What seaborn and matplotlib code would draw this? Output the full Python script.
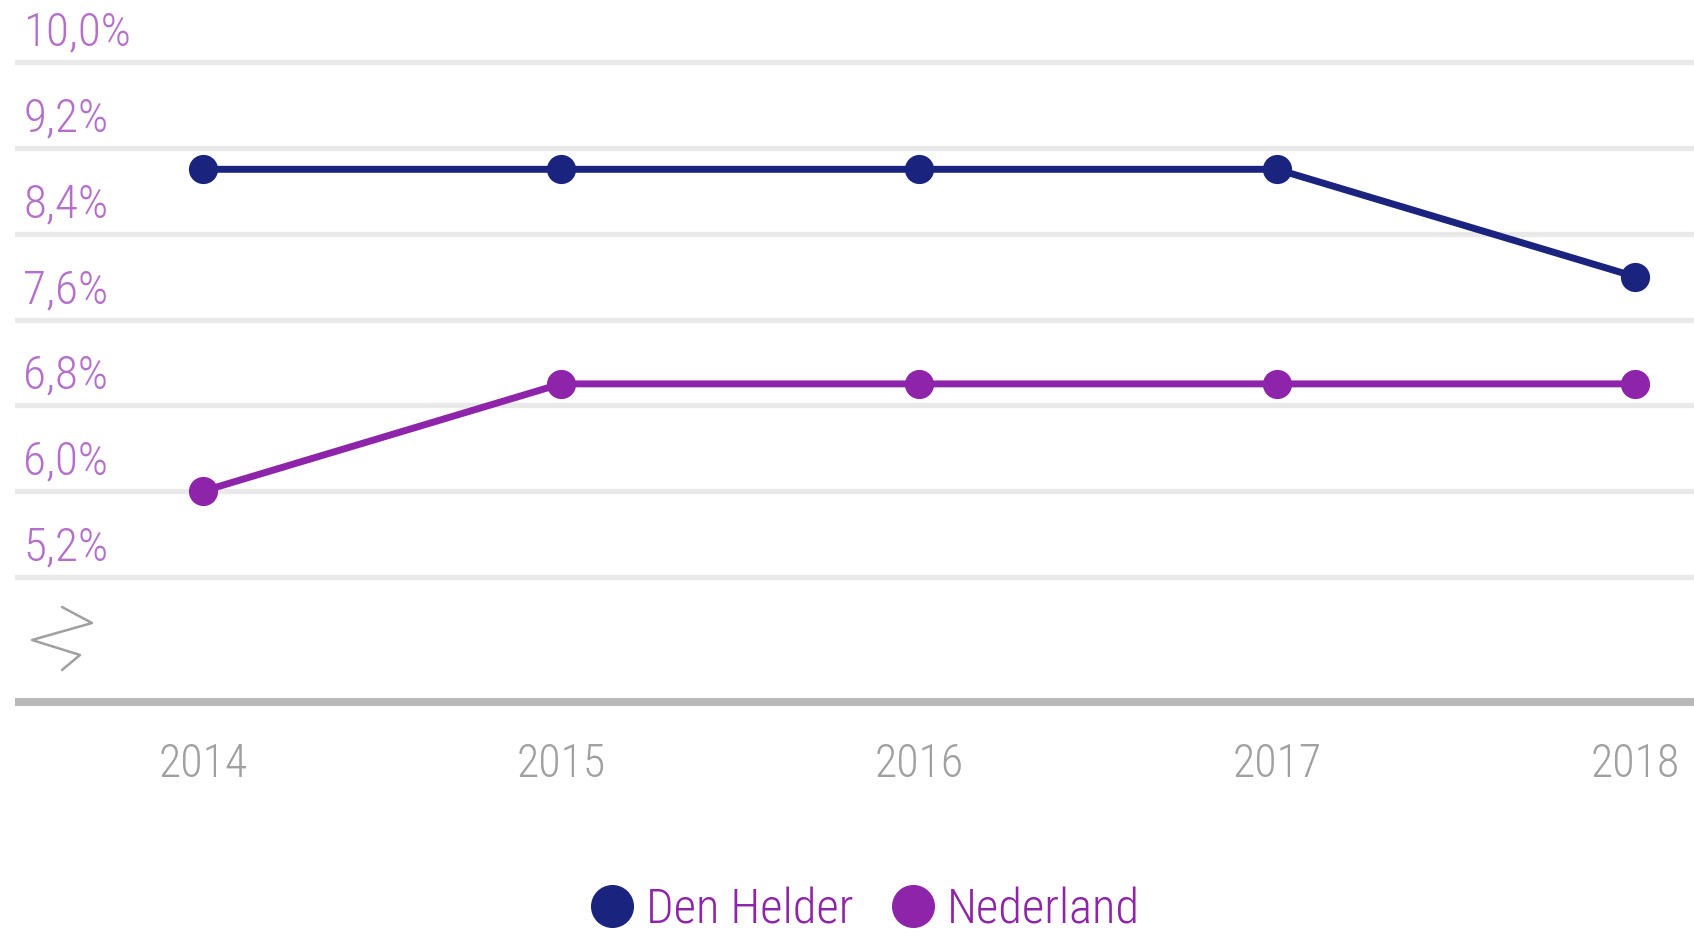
import matplotlib
matplotlib.use('Agg')
import matplotlib.pyplot as plt
import seaborn as sns
import pandas as pd
from matplotlib.lines import Line2D
from matplotlib.transforms import ScaledTranslation

# ---- data ----
years = [2014, 2015, 2016, 2017, 2018]
den_helder = [9.0, 9.0, 9.0, 9.0, 8.0]
nederland = [6.0, 7.0, 7.0, 7.0, 7.0]
series_names = ['Den Helder', 'Nederland']
y_ticks = [5.2, 6.0, 6.8, 7.6, 8.4, 9.2, 10.0]
y_tick_labels = ['5,2%', '6,0%', '6,8%', '7,6%', '8,4%', '9,2%', '10,0%']
x_tick_labels = ['2014', '2015', '2016', '2017', '2018']

# ---- styles ----
NAVY = '#1a237e'
PURPLE = '#8e24aa'
YLABEL_COLOR = '#b46fcb'
XLABEL_COLOR = '#a0a0a0'
GRID_COLOR = '#e9e9e9'
AXIS_COLOR = '#b9b9b9'

df = pd.DataFrame({
    'year': years * 2,
    'value': den_helder + nederland,
    'region': [series_names[0]] * len(years) + [series_names[1]] * len(years),
})

sns.set_theme(style='white')
plt.rcParams['font.family'] = ['Roboto Condensed', 'DejaVu Sans']
plt.rcParams['font.weight'] = 300
plt.rcParams['font.stretch'] = 'condensed'

W, H = 1694, 935
fig = plt.figure(figsize=(W / 100, H / 100), dpi=100)
ax = fig.add_axes([15 / W, (H - 702) / H, 1 - 15 / W, 702 / H])

sns.lineplot(data=df, x='year', y='value', hue='region', hue_order=series_names,
             palette=[NAVY, PURPLE], marker='o', markersize=21, markeredgewidth=0,
             linewidth=5, legend=False, ax=ax, zorder=3)

ax.set_xlim(2013.475, 2018.165)
ax.set_ylim(4.035, 10.578)
ax.set_xlabel('')
ax.set_ylabel('')

# gridlines
ax.set_yticks(y_ticks, y_tick_labels)
ax.yaxis.grid(True, color=GRID_COLOR, linewidth=3.8)
ax.xaxis.grid(False)
ax.set_axisbelow(True)

# spines
for s in ['top', 'right', 'left']:
    ax.spines[s].set_visible(False)
ax.spines['bottom'].set_color(AXIS_COLOR)
ax.spines['bottom'].set_linewidth(5.8)
ax.spines['bottom'].set_capstyle('butt')

# y tick labels: inside, above gridlines
ax.tick_params(axis='y', length=0, pad=-6, labelsize=34, labelcolor=YLABEL_COLOR)
offset = ScaledTranslation(0, 0.34, fig.dpi_scale_trans)
for lab in ax.get_yticklabels():
    lab.set_horizontalalignment('left')
    lab.set_transform(lab.get_transform() + offset)

# x tick labels
ax.set_xticks(years, x_tick_labels)
ax.tick_params(axis='x', length=0, pad=29, labelsize=33, labelcolor=XLABEL_COLOR)

# axis break symbol
bx = [62, 92, 32, 80, 62]
by = [607, 623, 640, 655, 670]
fig.add_artist(Line2D([x / W for x in bx], [1 - y / H for y in by],
                      color='#a0a0a0', linewidth=1.8, transform=fig.transFigure))

# legend
handles = [Line2D([], [], marker='o', linestyle='', color=c, markersize=31,
                  markeredgewidth=0) for c in [NAVY, PURPLE]]
fig.legend(handles, series_names, loc='center', bbox_to_anchor=(865 / W, 1 - 910 / H),
           ncol=2, frameon=False, fontsize=35, labelcolor=PURPLE,
           handlelength=0.9, handletextpad=0.25, columnspacing=0.78, borderpad=0)

fig.savefig('out.png', dpi=100)
